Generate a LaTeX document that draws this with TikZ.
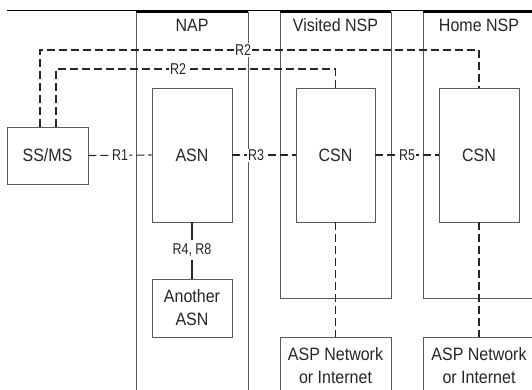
\documentclass[tikz,border=0pt]{standalone}
\usepackage{fontspec}
\setmainfont{Liberation Sans}
\usepackage{graphicx}
\newcommand\mtxt[1]{\scalebox{1}[1.12]{#1}}
\newcommand\ltxt[1]{\scalebox{1}[1.25]{#1}}
\begin{document}
\begin{tikzpicture}[x=1pt,y=-1pt,
  box/.style={draw=black!65, line width=0.9pt, fill=white, inner sep=0pt,
              font=\fontsize{16}{23}\selectfont, text=black!85, align=center},
  frame/.style={draw=black!65, line width=0.9pt},
  toptab/.style={draw=black, line width=2.4pt},
  rtitle/.style={font=\fontsize{16}{18}\selectfont, text=black!85},
  dline/.style={draw=black!85, line width=1.1pt, dash pattern=on 8pt off 4pt},
  sline/.style={draw=black!85, line width=1.1pt},
  lbl/.style={fill=white, inner sep=1.2pt, font=\fontsize{12.5}{14}\selectfont, text=black!85}]
\useasboundingbox (0,0) rectangle (532,389);
\clip (0,0) rectangle (532,389);

% top rule
\draw[black, line width=0.9pt] (7,10.5) -- (532,10.5);

% NAP region
\draw[frame] (136,395) -- (136,12) -- (248,12) -- (248,395);
\draw[toptab] (136,12) -- (248,12);
\node[rtitle] (nap) at (192,25) {\mtxt{NAP}};

% Visited NSP region
\draw[frame] (280,12) rectangle (391,298);
\draw[toptab] (280,12) -- (391,12);
\node[rtitle] (vnsp) at (335.5,25) {\mtxt{Visited NSP}};

% Home NSP region
\draw[frame] (423,12) rectangle (540,298);
\draw[toptab] (423,12) -- (540,12);
\node[rtitle] (hnsp) at (479,25) {\mtxt{Home NSP}};

% nodes
\node[box, minimum width=81pt, minimum height=57pt] (ss) at (47.5,155.5) {\mtxt{SS/MS}};
\node[box, minimum width=80pt, minimum height=134pt] (asn) at (192,155) {\mtxt{ASN}};
\node[box, minimum width=79pt, minimum height=134pt] (csn1) at (335.5,155) {\mtxt{CSN}};
\node[box, minimum width=80pt, minimum height=134pt] (csn2) at (479,155) {\mtxt{CSN}};
\node[box, minimum width=80pt, minimum height=58pt] (another) at (192,308) {\mtxt{Another}\\\mtxt{ASN}};
\node[box, minimum width=111pt, minimum height=58pt] (asp1) at (335.5,366) {\mtxt{ASP Network}\\\mtxt{or Internet}};
\node[box, minimum width=112pt, minimum height=58pt] (asp2) at (479,366) {\mtxt{ASP Network}\\\mtxt{or Internet}};

% R2 lines
\coordinate (r2o) at (243,50);
\coordinate (r2i) at (178,69);
\draw[dline] ([xshift=-7.5pt]ss.north) |- (csn2.north |- r2o) -- (csn2.north);
\draw[dline] ([xshift=8.5pt]ss.north) |- (csn1.north |- r2i) -- (csn1.north);

% horizontal reference points
\draw[dline] (ss.east) -- (asn.west);
\draw[dline] (asn.east) -- (csn1.west);
\draw[dline] (csn1.east) -- (csn2.west);
\draw[sline] (asn.south) -- (another.north);
\draw[dline] (csn1.south) -- (asp1.north);
\draw[dline] (csn2.south) -- (asp2.north);

% labels
\node[lbl] (l2o) at (r2o) {\ltxt{R2}};
\node[lbl] (l2i) at (r2i) {\ltxt{R2}};
\node[lbl] (l1) at (120,155.5) {\ltxt{R1}};
\node[lbl] (l3) at (256,155.5) {\ltxt{R3}};
\node[lbl] (l5) at (407,155.5) {\ltxt{R5}};
\node[lbl, inner ysep=4pt] (l48) at (192,250) {\ltxt{R4, R8}};
\end{tikzpicture}
\end{document}
